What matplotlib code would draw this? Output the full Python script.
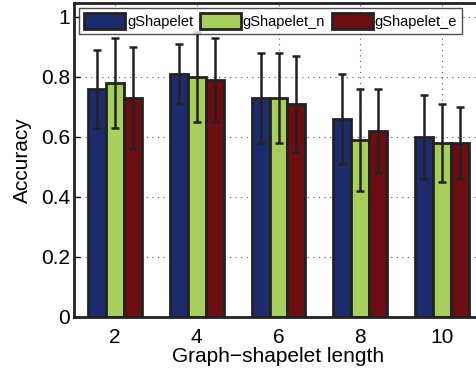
import matplotlib
matplotlib.use("Agg")
import matplotlib.pyplot as plt
import numpy as np

plt.rcParams['font.family'] = ['Liberation Sans', 'DejaVu Sans']

lengths = ["2", "4", "6", "8", "10"]
series_names = ["gShapelet", "gShapelet_n", "gShapelet_e"]
acc_g = [0.76, 0.81, 0.73, 0.66, 0.60]
acc_n = [0.78, 0.80, 0.73, 0.59, 0.58]
acc_e = [0.73, 0.79, 0.71, 0.62, 0.58]
err_g = [0.13, 0.10, 0.15, 0.15, 0.14]
err_n = [0.15, 0.15, 0.15, 0.17, 0.13]
err_e = [0.17, 0.14, 0.16, 0.14, 0.12]

colors = ["#1b2b6d", "#a6cf5b", "#6b0d11"]

fig = plt.figure(figsize=(4.76, 3.72), dpi=100)
ax = fig.add_axes([74/476, 55.3/372, 409/476, 313.4/372])

x = np.arange(1, len(lengths) + 1)
w = 0.22
for i, (vals, errs) in enumerate([(acc_g, err_g), (acc_n, err_n), (acc_e, err_e)]):
    ax.bar(x + (i - 1) * w, vals, width=w, color=colors[i], edgecolor="#222222",
           linewidth=2, label=series_names[i], zorder=2)
    ax.errorbar(x + (i - 1) * w, vals, yerr=errs, fmt="none", ecolor="#222222",
                elinewidth=1.8, capsize=2.6, capthick=1.8, zorder=3)

ax.set_xlim(0.5, 5.5)
ax.set_ylim(0, 1.045)
ax.set_xticks(x)
ax.set_xticklabels(lengths)
ax.set_yticks([0, 0.2, 0.4, 0.6, 0.8, 1.0])
ax.set_yticklabels(["0", "0.2", "0.4", "0.6", "0.8", "1"])
ax.tick_params(direction="in", labelsize=15, length=4, width=1)
ax.tick_params(axis="x", pad=8)
ax.tick_params(axis="y", pad=3)
ax.grid(True, linestyle=(0, (1, 4)), color="#555555", linewidth=0.8, zorder=0)
ax.set_axisbelow(True)
for s in ax.spines.values():
    s.set_linewidth(2)
    s.set_color("#222222")

ax.set_xlabel("Graph\u2212shapelet length", fontsize=15, labelpad=0)
ax.set_ylabel("Accuracy", fontsize=15, labelpad=6)

leg = ax.legend(loc="upper left", bbox_to_anchor=(79/476, 1 - 8/372),
                bbox_transform=fig.transFigure, ncol=3, fontsize=10.5,
                frameon=True, fancybox=False, handlelength=2.8, handleheight=1.25,
                handletextpad=0.15, columnspacing=0.45, borderpad=0.35,
                borderaxespad=0)
leg.get_frame().set_edgecolor("#222222")
leg.get_frame().set_linewidth(1)
leg.set_zorder(5)

fig.savefig("out.png", dpi=100)
